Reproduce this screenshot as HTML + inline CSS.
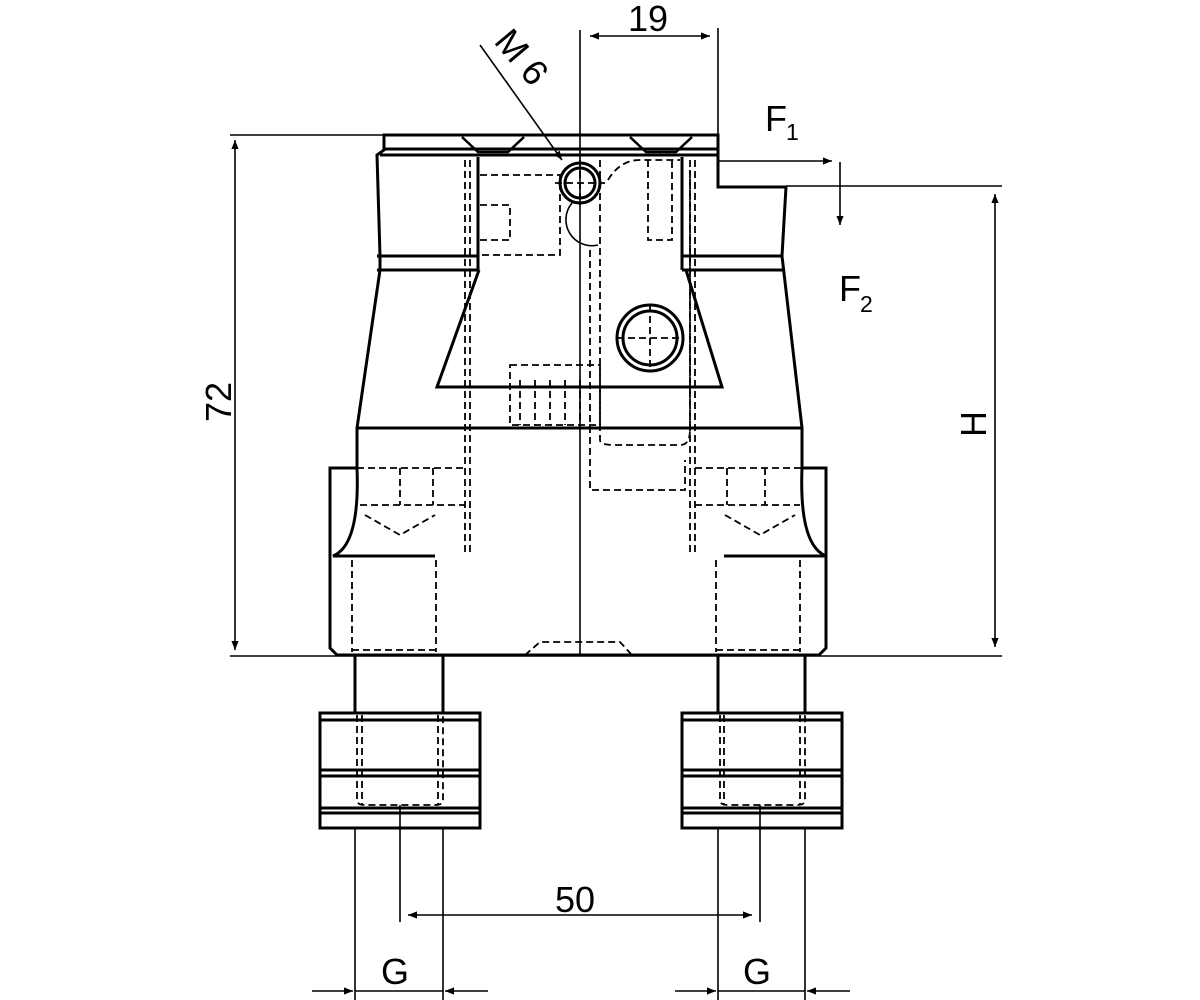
<!DOCTYPE html>
<html><head><meta charset="utf-8"><style>
html,body{margin:0;padding:0;background:#fff;}
svg{display:block;}
text{font-family:"Liberation Sans",sans-serif;fill:#000;}
</style></head><body>
<svg width="1200" height="1000" viewBox="0 0 1200 1000" xmlns="http://www.w3.org/2000/svg">
<defs>
<marker id="a" viewBox="0 0 10 10" refX="10" refY="5" markerWidth="13" markerHeight="9" orient="auto-start-reverse" markerUnits="userSpaceOnUse"><path d="M0,1 L10,5 L0,9 z" fill="#000"/></marker>
</defs>
<g fill="none" stroke="#000">
<g stroke-width="1.6">
<line x1="580" y1="30" x2="580" y2="655"/>
<line x1="718" y1="28" x2="718" y2="135"/>
<line x1="590" y1="36" x2="710" y2="36" marker-start="url(#a)" marker-end="url(#a)"/>
<line x1="230" y1="135" x2="384" y2="135"/>
<line x1="235" y1="140" x2="235" y2="650" marker-start="url(#a)" marker-end="url(#a)"/>
<line x1="786" y1="186" x2="1002" y2="186"/>
<line x1="995" y1="194" x2="995" y2="647" marker-start="url(#a)" marker-end="url(#a)"/>
<line x1="230" y1="656" x2="1002" y2="656"/>
<line x1="718" y1="161" x2="832" y2="161" marker-end="url(#a)"/>
<line x1="840" y1="162" x2="840" y2="225" marker-end="url(#a)"/>
<line x1="480" y1="45" x2="562" y2="160" marker-end="url(#a)"/>
<line x1="400" y1="805" x2="400" y2="922"/>
<line x1="760" y1="805" x2="760" y2="922"/>
<line x1="408" y1="915" x2="752" y2="915" marker-start="url(#a)" marker-end="url(#a)"/>
<line x1="355" y1="828" x2="355" y2="1000"/>
<line x1="443" y1="828" x2="443" y2="1000"/>
<line x1="718" y1="828" x2="718" y2="1000"/>
<line x1="805" y1="828" x2="805" y2="1000"/>
<line x1="312" y1="991" x2="353" y2="991" marker-end="url(#a)"/>
<line x1="488" y1="991" x2="445" y2="991" marker-end="url(#a)"/>
<line x1="675" y1="991" x2="716" y2="991" marker-end="url(#a)"/>
<line x1="850" y1="991" x2="807" y2="991" marker-end="url(#a)"/>
<line x1="355" y1="991" x2="443" y2="991"/>
<line x1="718" y1="991" x2="805" y2="991"/>
<path d="M572,203 A26,26 0 0 0 598,245"/>
</g>
<g stroke-width="3">
<path d="M384,135 H718 V187 H786 L782,256 L802,428 V468 H826 V648 L819,655 H337 L330,648 V468 H357 V428 L380,270 V256 L377,155 L384,150 Z"/>
<line x1="384" y1="149" x2="718" y2="149"/>
<line x1="380" y1="155" x2="718" y2="155"/>
<line x1="377" y1="256" x2="478" y2="256"/>
<line x1="377" y1="270" x2="478" y2="270"/>
<line x1="682" y1="256" x2="783" y2="256"/>
<line x1="682" y1="270" x2="783" y2="270"/>
<line x1="478" y1="157" x2="478" y2="270"/>
<line x1="682" y1="157" x2="682" y2="270"/>
<path d="M479,270 L437,387 H722 L686,270"/>
<line x1="357" y1="428" x2="802" y2="428"/>
<path d="M357,468 Q360,545 333,556 H357"/>
<path d="M802,468 Q799,545 826,556 H802"/>
<line x1="350" y1="556" x2="435" y2="556"/>
<line x1="724" y1="556" x2="810" y2="556"/>
<circle cx="580" cy="183" r="20"/>
<circle cx="580" cy="183" r="15"/>
<circle cx="650" cy="338" r="33"/>
<circle cx="650" cy="338" r="27"/>
<line x1="355" y1="656" x2="355" y2="712"/>
<line x1="443" y1="656" x2="443" y2="712"/>
<line x1="718" y1="656" x2="718" y2="712"/>
<line x1="805" y1="656" x2="805" y2="712"/>
<rect x="320" y="713" width="160" height="115"/>
<rect x="682" y="713" width="160" height="115"/>
<line x1="320" y1="720" x2="480" y2="720"/><line x1="682" y1="720" x2="842" y2="720"/>
<line x1="320" y1="770" x2="480" y2="770"/><line x1="682" y1="770" x2="842" y2="770"/>
<line x1="320" y1="776" x2="480" y2="776"/><line x1="682" y1="776" x2="842" y2="776"/>
<line x1="320" y1="808" x2="480" y2="808"/><line x1="682" y1="808" x2="842" y2="808"/>
<line x1="320" y1="813" x2="480" y2="813"/><line x1="682" y1="813" x2="842" y2="813"/>
</g>
<g stroke-width="1.8" stroke-dasharray="7,4">
<path d="M470,160 V555"/><path d="M465,160 V555"/>
<path d="M600,160 V440 Q600,445 615,445 H680 Q690,445 690,430 V170"/>
<path d="M608,180 Q620,160 640,160 H680"/>
<path d="M590,250 V490 H685 V460"/>
<path d="M690,160 V555"/><path d="M695,160 V555"/>
<path d="M480,175 H560 V255 H480"/>
<path d="M480,205 H510 V240 H480"/>
<path d="M648,160 V240 H672 V160"/>
<path d="M510,365 H600 V425 H510 Z"/>
<path d="M520,380 V425 M535,380 V425 M550,380 V425 M565,380 V425 M580,380 V425"/>
<path d="M357,468 H465 M695,468 H802"/>
<path d="M400,468 V505 M433,468 V505 M727,468 V505 M765,468 V505"/>
<path d="M360,505 H465 M695,505 H800"/>
<path d="M365,515 L400,535 L435,515 M725,515 L760,535 L795,515"/>
<path d="M352,560 V652 M436,560 V652 M716,560 V652 M800,560 V652"/>
<path d="M352,650 H436 M716,650 H800"/>
<path d="M525,655 L540,642 H620 L632,655"/>
<path d="M357,715 V800 Q357,805 365,805 H435 Q443,805 443,800 V715"/>
<path d="M362,715 V805 M438,715 V805"/>
<path d="M720,715 V800 Q720,805 728,805 H797 Q805,805 805,800 V715"/>
<path d="M724,715 V805 M800,715 V805"/>
<path d="M555,183 H605 M580,160 V205 M650,305 V370 M617,338 H683"/>
</g>
</g>
<g stroke="#000" stroke-width="2.5" fill="none">
<path d="M462,137 L478,152 H508 L524,137 M630,137 L646,152 H676 L692,137"/>
</g>
<text x="628" y="31" font-size="36">19</text>
<text x="0" y="0" font-size="36" transform="translate(493,42) rotate(50)">M 6</text>
<text x="765" y="131" font-size="36">F</text><text x="786" y="140" font-size="23">1</text>
<text x="839" y="301" font-size="36">F</text><text x="860" y="312" font-size="23">2</text>
<text x="0" y="0" font-size="36" transform="translate(231,422) rotate(-90)">72</text>
<text x="0" y="0" font-size="36" transform="translate(986,437) rotate(-90)">H</text>
<text x="555" y="912" font-size="36">50</text>
<text x="381" y="984" font-size="36">G</text>
<text x="743" y="984" font-size="36">G</text>
</svg>
</body></html>
